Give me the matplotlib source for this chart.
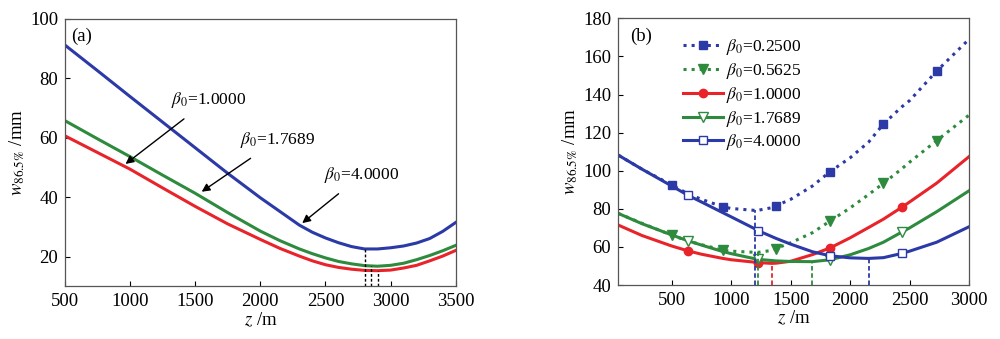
import matplotlib
matplotlib.use("Agg")
import matplotlib.pyplot as plt

plt.rcParams['font.family'] = ['Liberation Serif', 'DejaVu Serif']
plt.rcParams['mathtext.fontset'] = 'stix'

BLUE = '#2b3aa6'
RED = '#e8242a'
GREEN = '#2e8b3e'

# ---- panel (a) data ----
za = [500, 750, 1000, 1250, 1500, 1750, 2000, 2150, 2300, 2400, 2500, 2600, 2700, 2800, 2900, 3000, 3100, 3200, 3300, 3400, 3500]
wa_b4 = [91.1, 82.5, 73.8, 65.2, 56.6, 48.0, 39.8, 35.2, 30.6, 28.2, 26.3, 24.7, 23.4, 22.6, 22.6, 23.0, 23.6, 24.6, 26.1, 28.5, 31.5]
wa_b17 = [65.7, 59.6, 53.6, 47.4, 41.3, 34.8, 28.6, 25.4, 22.6, 21.0, 19.6, 18.4, 17.6, 17.0, 16.8, 17.1, 17.8, 19.0, 20.4, 22.0, 23.8]
wa_b1 = [60.6, 55.0, 49.4, 43.1, 36.9, 31.0, 25.8, 22.8, 20.2, 18.6, 17.3, 16.4, 15.8, 15.4, 15.3, 15.5, 16.2, 17.1, 18.6, 20.2, 22.1]
zmin_a = [2800, 2850, 2900]
wmin_a = [22.6, 17.0, 15.3]

# ---- panel (b) data ----
zb = [50, 250, 500, 634, 750, 929, 1000, 1200, 1229, 1340, 1377, 1500, 1683, 1831, 2000, 2155, 2280, 2434, 2500, 2728, 3000]
wb_b025 = [108.2, 100.8, 92.5, 88.0, 85.0, 81.1, 80.2, 79.2, 79.3, 80.6, 81.6, 85.0, 92.0, 99.5, 106.8, 115.0, 124.5, 133.5, 136.8, 152.3, 169.0]
wb_b056 = [77.6, 72.4, 66.2, 63.2, 61.2, 58.4, 57.8, 57.2, 57.2, 58.2, 59.2, 62.2, 67.5, 73.6, 80.5, 87.5, 93.4, 101.0, 104.5, 115.8, 129.2]
wb_b1 = [71.5, 66.0, 60.5, 58.0, 56.2, 54.0, 53.3, 52.0, 51.8, 51.4, 51.5, 52.5, 56.0, 59.5, 64.8, 70.2, 74.6, 80.8, 83.6, 93.5, 107.4]
wb_b17 = [77.6, 72.2, 66.3, 63.3, 61.0, 57.6, 56.5, 53.8, 53.5, 52.9, 52.7, 52.4, 52.3, 53.3, 55.9, 59.2, 62.5, 67.8, 70.0, 78.5, 89.5]
wb_b4 = [108.2, 100.8, 92.0, 87.2, 83.6, 78.0, 75.8, 69.5, 68.5, 65.5, 64.5, 61.5, 57.5, 55.4, 54.3, 54.0, 54.4, 56.6, 57.8, 62.5, 70.6]
mk_b025 = [2, 5, 10, 13, 16, 19]
mk_b056 = [2, 5, 10, 13, 16, 19]
mk_b1 = [3, 8, 13, 17]
mk_b17 = [3, 8, 13, 17]
mk_b4 = [3, 8, 13, 17]
zmin_b = [1200, 1229, 1340, 1683, 2155]
wmin_b = [79.2, 57.2, 51.4, 52.3, 54.0]
cmin_b = [BLUE, GREEN, RED, GREEN, BLUE]

fig = plt.figure(figsize=(10, 3.39), dpi=100)
ax1 = fig.add_axes([0.065, 0.155, 0.3907, 0.79])
ax2 = fig.add_axes([0.6183, 0.159, 0.3507, 0.787])

lw = 2.2
fs = 13.5
fs_small = 12.5
tick_kw = dict(direction='in', length=3.5, width=0.8, labelsize=fs, pad=5)

# panel (a)
ax1.plot(za, wa_b4, color=BLUE, lw=lw)
ax1.plot(za, wa_b17, color=GREEN, lw=lw)
ax1.plot(za, wa_b1, color=RED, lw=lw)
for z, w in zip(zmin_a, wmin_a):
    ax1.plot([z, z], [10, w], color='black', ls='--', lw=1.0, dashes=(2, 1.5))
ax1.set_xlim(500, 3500)
ax1.set_ylim(10, 100)
ax1.set_xticks([500, 1000, 1500, 2000, 2500, 3000, 3500])
ax1.set_yticks([20, 40, 60, 80, 100])
ax1.set_xlabel(r'$z$ /m', fontsize=fs, labelpad=0)
ax1.set_ylabel(r'$w_{86.5\%}$ /mm', fontsize=fs, labelpad=2)
ax1.text(0.015, 0.965, '(a)', transform=ax1.transAxes, fontsize=fs, va='top')

arrow = dict(arrowstyle='-|>', color='black', lw=1.0, mutation_scale=12)
ax1.annotate(r'$\beta_0$=1.0000', xy=(948, 50.6), xytext=(1600, 72.6), ha='center', va='center',
             fontsize=fs_small, arrowprops=dict(arrow, shrinkA=7))
ax1.annotate(r'$\beta_0$=1.7689', xy=(1532, 41.3), xytext=(2130, 59.2), ha='center', va='center',
             fontsize=fs_small, arrowprops=dict(arrow, shrinkA=7))
ax1.annotate(r'$\beta_0$=4.0000', xy=(2305, 30.7), xytext=(2780, 47.5), ha='center', va='center',
             fontsize=fs_small, arrowprops=dict(arrow, shrinkA=7))

# panel (b)
ax2.plot(zb, wb_b025, color=BLUE, lw=lw, ls=':', marker='s', ms=6, markevery=mk_b025,
         label=r'$\beta_0$=0.2500')
ax2.plot(zb, wb_b056, color=GREEN, lw=lw, ls=':', marker='v', ms=7, markevery=mk_b056,
         label=r'$\beta_0$=0.5625')
ax2.plot(zb, wb_b1, color=RED, lw=lw, marker='o', ms=6, markevery=mk_b1,
         label=r'$\beta_0$=1.0000')
ax2.plot(zb, wb_b17, color=GREEN, lw=lw, marker='v', ms=7, mfc='white', markevery=mk_b17,
         label=r'$\beta_0$=1.7689')
ax2.plot(zb, wb_b4, color=BLUE, lw=lw, marker='s', ms=6, mfc='white', markevery=mk_b4,
         label=r'$\beta_0$=4.0000')
for z, w, c in zip(zmin_b, wmin_b, cmin_b):
    ax2.plot([z, z], [40, w], color=c, ls='--', lw=1.3, dashes=(2.5, 1.5))
ax2.set_xlim(50, 3000)
ax2.set_ylim(40, 180)
ax2.set_xticks([500, 1000, 1500, 2000, 2500, 3000])
ax2.set_yticks([40, 60, 80, 100, 120, 140, 160, 180])
ax2.set_xlabel(r'$z$ /m', fontsize=fs, labelpad=0)
ax2.set_ylabel(r'$w_{86.5\%}$ /mm', fontsize=fs, labelpad=2)
ax2.text(0.035, 0.965, '(b)', transform=ax2.transAxes, fontsize=fs, va='top')
ax2.legend(loc='upper left', bbox_to_anchor=(0.15, 0.975), frameon=False, fontsize=fs_small,
           handlelength=2.3, handletextpad=0.2, labelspacing=0.22, borderpad=0.2)

for ax in (ax1, ax2):
    ax.tick_params(**tick_kw)
    for s in ax.spines.values():
        s.set_color('#555555')
        s.set_linewidth(0.9)

fig.savefig('out.png', dpi=100)
